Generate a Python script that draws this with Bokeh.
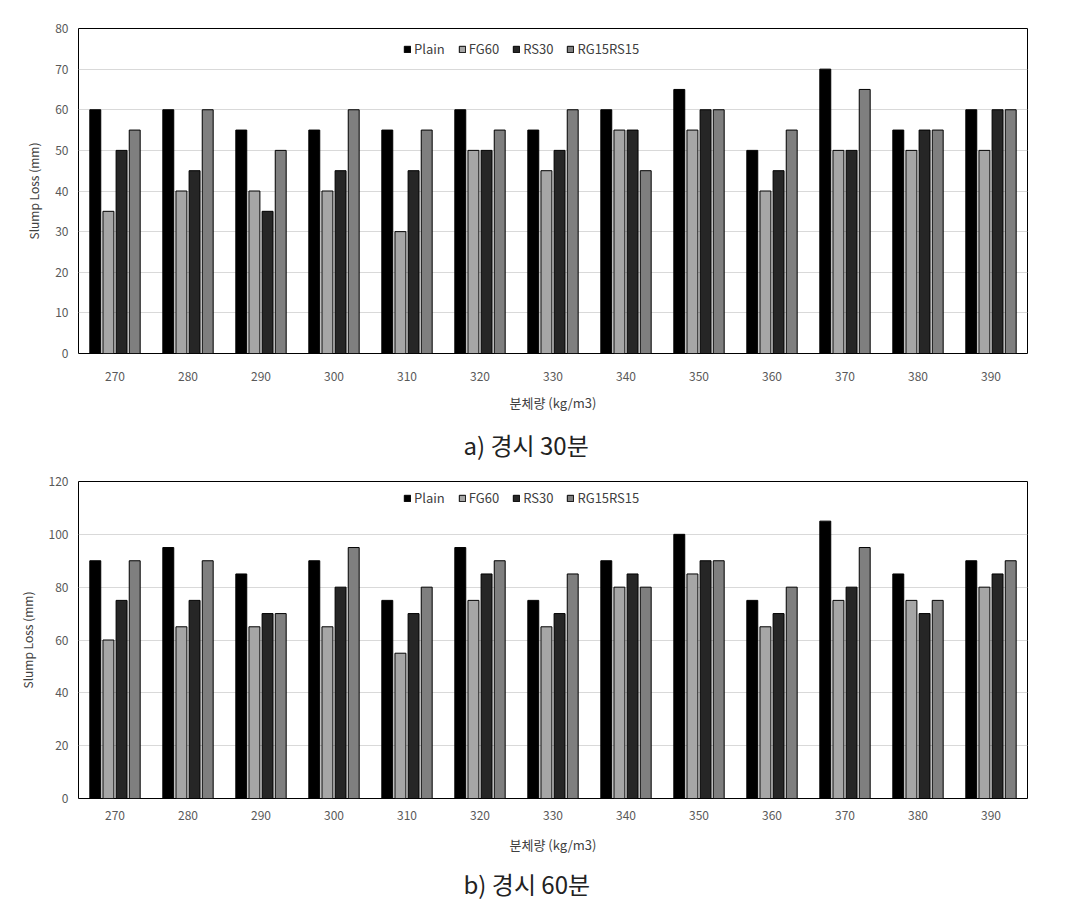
from bokeh.plotting import figure
from bokeh.models import FactorRange, Legend, LegendItem, Range1d, FixedTicker, ColumnDataSource
from bokeh.transform import dodge
from bokeh.layouts import column
from bokeh.embed import file_html
from bokeh.resources import INLINE

categories = ["270", "280", "290", "300", "310", "320", "330", "340", "350", "360", "370", "380", "390"]
series = ["Plain", "FG60", "RS30", "RG15RS15"]

plain_30 = [60, 60, 55, 55, 55, 60, 55, 60, 65, 50, 70, 55, 60]
fg60_30 = [35, 40, 40, 40, 30, 50, 45, 55, 55, 40, 50, 50, 50]
rs30_30 = [50, 45, 35, 45, 45, 50, 50, 55, 60, 45, 50, 55, 60]
rg15rs15_30 = [55, 60, 50, 60, 55, 55, 60, 45, 60, 55, 65, 55, 60]

plain_60 = [90, 95, 85, 90, 75, 95, 75, 90, 100, 75, 105, 85, 90]
fg60_60 = [60, 65, 65, 65, 55, 75, 65, 80, 85, 65, 75, 75, 80]
rs30_60 = [75, 75, 70, 80, 70, 85, 70, 85, 90, 70, 80, 70, 85]
rg15rs15_60 = [90, 90, 70, 95, 80, 90, 85, 80, 90, 80, 95, 75, 90]

colors = ["#000000", "#a6a6a6", "#262626", "#7f7f7f"]
offsets = [-0.27, -0.09, 0.09, 0.27]

FONT = "Noto Sans CJK KR"
TICK_COLOR = "#595959"


def make_chart(vals, ymax, ystep, caption, frame_h, top, bottom, legend_top,
               tick_so, label_so, title_so):
    height = top + frame_h + bottom
    src = ColumnDataSource(dict(cat=categories, **{s: v for s, v in zip(series, vals)}))
    p = figure(x_range=FactorRange(*categories), y_range=Range1d(0, ymax),
               width=1070, height=height, output_backend="svg", toolbar_location=None,
               min_border_left=78, min_border_right=43, min_border_top=top,
               min_border_bottom=bottom, title=caption, title_location="below")
    items = []
    for s, c, off in zip(series, colors, offsets):
        r = p.vbar(x=dodge("cat", off, range=p.x_range), top=s, width=0.15, source=src,
                   fill_color=c, line_color="#000000", line_width=1)
        items.append(LegendItem(label=s, renderers=[r]))
    leg = Legend(items=items, orientation="horizontal",
                 location=(325, frame_h - legend_top - 15),
                 border_line_color=None, background_fill_alpha=0, padding=0, margin=0,
                 glyph_width=8, glyph_height=8, label_standoff=3, spacing=13,
                 label_height=15, label_text_font=FONT, label_text_font_size="13px",
                 label_text_color="#404040")
    p.add_layout(leg)
    p.outline_line_color = "#000000"
    p.outline_line_width = 1
    p.xgrid.grid_line_color = None
    p.ygrid.grid_line_color = "#d9d9d9"
    p.yaxis.ticker = FixedTicker(ticks=list(range(0, ymax + 1, ystep)))
    for ax in (p.xaxis[0], p.yaxis[0]):
        ax.axis_line_color = None
        ax.major_tick_line_color = None
        ax.minor_tick_line_color = None
        ax.major_tick_out = 0
        ax.major_label_text_font = FONT
        ax.major_label_text_font_size = "12px"
        ax.major_label_text_color = TICK_COLOR
        ax.axis_label_text_font = FONT
        ax.axis_label_text_font_style = "normal"
        ax.axis_label_text_color = "#404040"
    p.xaxis.axis_label = "분체량 (kg/m3)"
    p.xaxis.axis_label_text_font_size = "13px"
    p.xaxis.major_label_standoff = tick_so
    p.xaxis.axis_label_standoff = label_so
    p.yaxis.axis_label = "Slump Loss (mm)"
    p.yaxis.axis_label_text_font_size = "12px"
    p.yaxis.major_label_standoff = 10
    p.yaxis.axis_label_standoff = 10
    p.title.text_font = FONT
    p.title.text_font_size = "24px"
    p.title.text_font_style = "normal"
    p.title.text_color = "#222222"
    p.title.align = "left"
    p.title.offset = 385
    p.title.standoff = title_so
    return p


pa = make_chart([plain_30, fg60_30, rs30_30, rg15rs15_30], 80, 10, "a) 경시 30분",
                325, 28, 119, 15, 18, 9, 21)
pb = make_chart([plain_60, fg60_60, rs30_60, rg15rs15_60], 120, 20, "b) 경시 60분",
                318, 9, 108, 12, 12, 12, 14)

layout = column(pa, pb, spacing=0)
open("out.html", "w").write(file_html(layout, INLINE))
